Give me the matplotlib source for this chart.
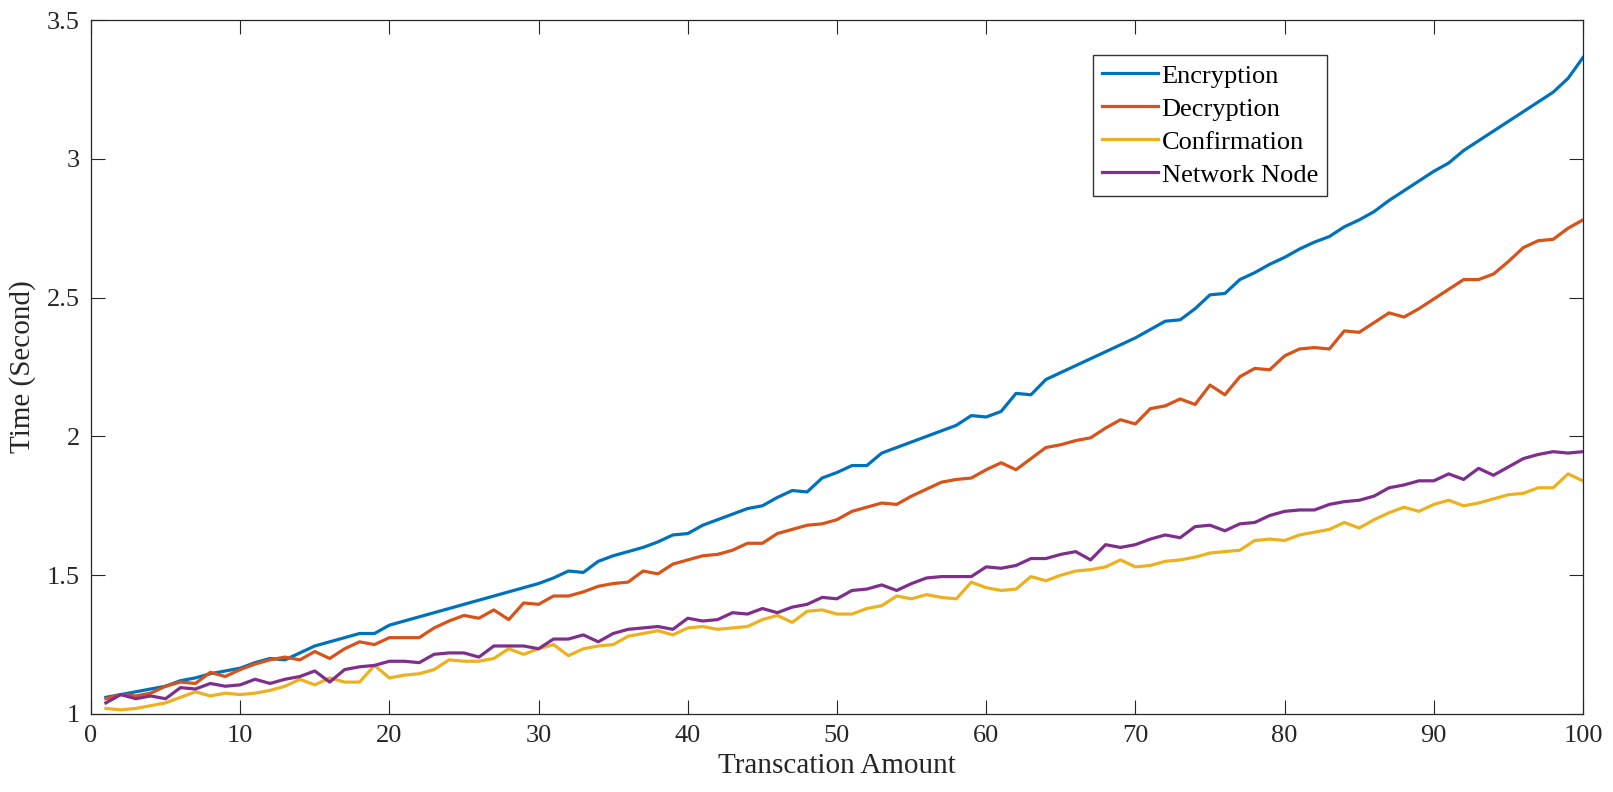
import matplotlib
import matplotlib.pyplot as plt
from matplotlib.ticker import FormatStrFormatter

matplotlib.use('Agg')
plt.rcParams['font.family'] = ['Liberation Serif', 'DejaVu Serif']

x_s = list(range(1, 101))

encryption = [
    1.06, 1.07, 1.08, 1.09, 1.10, 1.12, 1.13, 1.145, 1.155, 1.165,
    1.185, 1.20, 1.195, 1.22, 1.245, 1.26, 1.275, 1.29, 1.29, 1.32,
    1.335, 1.35, 1.365, 1.38, 1.395, 1.41, 1.425, 1.44, 1.455, 1.47,
    1.49, 1.515, 1.51, 1.55, 1.57, 1.585, 1.60, 1.62, 1.645, 1.65,
    1.68, 1.70, 1.72, 1.74, 1.75, 1.78, 1.805, 1.80, 1.85, 1.87,
    1.895, 1.895, 1.94, 1.96, 1.98, 2.00, 2.02, 2.04, 2.075, 2.07,
    2.09, 2.155, 2.15, 2.205, 2.23, 2.255, 2.28, 2.305, 2.33, 2.355,
    2.385, 2.415, 2.42, 2.46, 2.51, 2.515, 2.565, 2.59, 2.62, 2.645,
    2.675, 2.70, 2.72, 2.755, 2.78, 2.81, 2.85, 2.885, 2.92, 2.955,
    2.985, 3.03, 3.065, 3.10, 3.135, 3.17, 3.205, 3.24, 3.29, 3.365,
]

decryption = [
    1.055, 1.07, 1.065, 1.075, 1.10, 1.115, 1.11, 1.15, 1.135, 1.16,
    1.18, 1.195, 1.205, 1.195, 1.225, 1.20, 1.235, 1.26, 1.25, 1.275,
    1.275, 1.275, 1.31, 1.335, 1.355, 1.345, 1.375, 1.34, 1.40, 1.395,
    1.425, 1.425, 1.44, 1.46, 1.47, 1.475, 1.515, 1.505, 1.54, 1.555,
    1.57, 1.575, 1.59, 1.615, 1.615, 1.65, 1.665, 1.68, 1.685, 1.70,
    1.73, 1.745, 1.76, 1.755, 1.785, 1.81, 1.835, 1.845, 1.85, 1.88,
    1.905, 1.88, 1.92, 1.96, 1.97, 1.985, 1.995, 2.03, 2.06, 2.045,
    2.10, 2.11, 2.135, 2.115, 2.185, 2.15, 2.215, 2.245, 2.24, 2.29,
    2.315, 2.32, 2.315, 2.38, 2.375, 2.41, 2.445, 2.43, 2.46, 2.495,
    2.53, 2.565, 2.565, 2.585, 2.63, 2.68, 2.705, 2.71, 2.75, 2.78,
]

confirmation = [
    1.02, 1.015, 1.02, 1.03, 1.04, 1.06, 1.08, 1.065, 1.075, 1.07,
    1.075, 1.085, 1.10, 1.125, 1.105, 1.13, 1.115, 1.115, 1.175, 1.13,
    1.14, 1.145, 1.16, 1.195, 1.19, 1.19, 1.20, 1.235, 1.215, 1.235,
    1.25, 1.21, 1.235, 1.245, 1.25, 1.28, 1.29, 1.30, 1.285, 1.31,
    1.315, 1.305, 1.31, 1.315, 1.34, 1.355, 1.33, 1.37, 1.375, 1.36,
    1.36, 1.38, 1.39, 1.425, 1.415, 1.43, 1.42, 1.415, 1.475, 1.455,
    1.445, 1.45, 1.495, 1.48, 1.50, 1.515, 1.52, 1.53, 1.555, 1.53,
    1.535, 1.55, 1.555, 1.565, 1.58, 1.585, 1.59, 1.625, 1.63, 1.625,
    1.645, 1.655, 1.665, 1.69, 1.67, 1.70, 1.725, 1.745, 1.73, 1.755,
    1.77, 1.75, 1.76, 1.775, 1.79, 1.795, 1.815, 1.815, 1.865, 1.84,
]

network_node = [
    1.04, 1.07, 1.055, 1.065, 1.055, 1.095, 1.09, 1.11, 1.10, 1.105,
    1.125, 1.11, 1.125, 1.135, 1.155, 1.115, 1.16, 1.17, 1.175, 1.19,
    1.19, 1.185, 1.215, 1.22, 1.22, 1.205, 1.245, 1.245, 1.245, 1.235,
    1.27, 1.27, 1.285, 1.26, 1.29, 1.305, 1.31, 1.315, 1.305, 1.345,
    1.335, 1.34, 1.365, 1.36, 1.38, 1.365, 1.385, 1.395, 1.42, 1.415,
    1.445, 1.45, 1.465, 1.445, 1.47, 1.49, 1.495, 1.495, 1.495, 1.53,
    1.525, 1.535, 1.56, 1.56, 1.575, 1.585, 1.555, 1.61, 1.60, 1.61,
    1.63, 1.645, 1.635, 1.675, 1.68, 1.66, 1.685, 1.69, 1.715, 1.73,
    1.735, 1.735, 1.755, 1.765, 1.77, 1.785, 1.815, 1.825, 1.84, 1.84,
    1.865, 1.845, 1.885, 1.86, 1.89, 1.92, 1.935, 1.945, 1.94, 1.945,
]

x_ticks = list(range(0, 101, 10))
y_ticks = [1, 1.5, 2, 2.5, 3, 3.5]

fig = plt.figure(figsize=(16.13, 7.92), dpi=100)
ax = fig.add_axes([0.0564, 0.0985, 0.925, 0.8762])

ax.plot(x_s, encryption, color='#0072BD', lw=2.3, label="Encryption")
ax.plot(x_s, decryption, color='#D95319', lw=2.3, label="Decryption")
ax.plot(x_s, confirmation, color='#EDB120', lw=2.3, label="Confirmation")
ax.plot(x_s, network_node, color='#7E2F8E', lw=2.3, label="Network Node")

ax.set_xlim(0, 100)
ax.set_ylim(1, 3.5)
ax.set_xticks(x_ticks)
ax.set_yticks(y_ticks)
ax.yaxis.set_major_formatter(FormatStrFormatter('%g'))
ax.tick_params(direction='in', top=True, right=True, length=10, width=0.8,
               labelsize=19, pad=8, colors='#262626')
for sp in ax.spines.values():
    sp.set_linewidth(0.9)
    sp.set_color('#262626')

ax.set_xlabel("Transcation Amount", fontsize=21, color='#262626', labelpad=4)
ax.set_ylabel("Time (Second)", fontsize=21, color='#262626', labelpad=8)

leg = ax.legend(loc='upper left', bbox_to_anchor=(0.6716, 0.9496), borderaxespad=0,
                fancybox=False, edgecolor='black', fontsize=19, handlelength=2.1,
                handletextpad=0.15, labelspacing=0.36, borderpad=0.35)
leg.get_frame().set_linewidth(1.0)

fig.savefig("out.png", dpi=100)
